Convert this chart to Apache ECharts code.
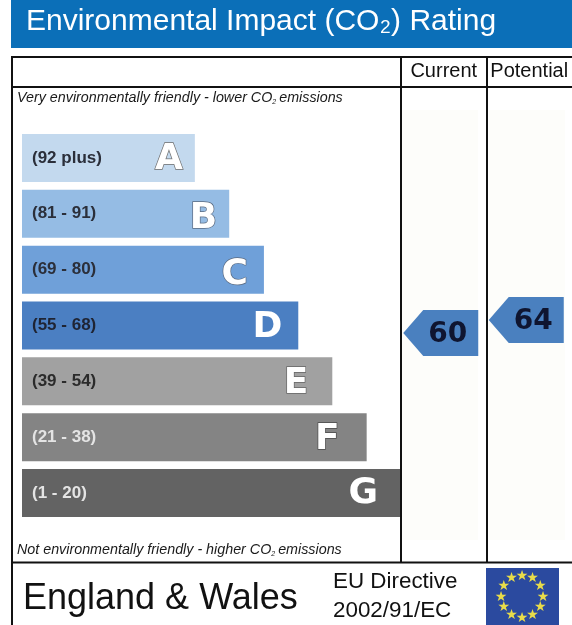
<!DOCTYPE html>
<html><head><meta charset="utf-8">
<style>html,body{margin:0;padding:0;background:#fff}#c{width:572px;height:625px}</style>
<script src="https://cdn.jsdelivr.net/npm/echarts@6/dist/echarts.min.js"></script>
</head><body><div id="c"></div>
<script>
const ranges = ['(92 plus)','(81 - 91)','(69 - 80)','(55 - 68)','(39 - 54)','(21 - 38)','(1 - 20)'];
const letters = ['A','B','C','D','E','F','G'];
const bandLengths = [5.03,6.03,7.04,8.04,9.03,10.03,11];
const bandColors = ['#c3d9ee','#95bce4','#6fa0d9','#4b7fc2','#a1a1a1','#848484','#636363'];
const rangeColors = ['#2b2f3a','#2b2f3a','#2b2f3a','#1f2433','#2b2b2b','#e4e4e4','#e4e4e4'];
const ratingColumns = ['Current','Potential'];
const ratings = [60,64];
const font = 'Liberation Sans, Arial, sans-serif';
const arrow = 'path://M0,23 L20,0 L75,0 L75,46 L20,46 Z';
const letterInsets = [12,12,16,16,24,27,22];
const letterDrops = [2,5,5,2,2,2,1];
const letterEdges = ['#6e6e6e','#5a6a80','#5a6a80','#4b7fc2','#666666','#4a4a4a','#636363'];

function italicText(text, x, y) {
  return {type:'text', x, y, z:5, style:{
    text, font:'italic 14.3px '+font, fill:'#1a1a1a',
    rich:{s:{fontSize:7, fontStyle:'italic', fontFamily:font, fill:'#1a1a1a', padding:[8,3,0,0]}}
  }};
}
function line(x1,y1,x2,y2,w){
  return {type:'line', z:6, shape:{x1,y1,x2,y2}, style:{stroke:'#111', lineWidth:w||2}};
}
const stars = [];
for (let i=0;i<12;i++){
  const a = i*Math.PI/6;
  stars.push({type:'text', z:7, x:522+21*Math.sin(a), y:597-21*Math.cos(a), style:{
    text:'★', font:'14px DejaVu Sans', fill:'#e8dc4a', align:'center', verticalAlign:'middle',
    shadowBlur:3, shadowColor:'#e8dc4a'
  }});
}

const chart = echarts.init(document.getElementById('c'), null, {renderer:'canvas'});
chart.setOption({
  animation:false,
  backgroundColor:'#fff',
  title:{text:'Environmental Impact (CO₂) Rating', left:21, top:2,
    textStyle:{color:'#fff', fontFamily:font, fontWeight:'normal', fontSize:30}},
  grid:[
    {left:22, top:130, width:378, height:391},
    {left:401, top:203, width:171, height:325}
  ],
  xAxis:[
    {gridIndex:0, type:'value', min:0, max:11, show:false},
    {gridIndex:1, type:'category', data:ratingColumns, position:'top', offset:116,
      axisLine:{show:false}, axisTick:{show:false}, splitLine:{show:false},
      axisLabel:{interval:0, hideOverlap:false, margin:6, color:'#111', fontFamily:font, fontSize:20}}
  ],
  yAxis:[
    {gridIndex:0, type:'category', inverse:true, data:ranges,
      axisLine:{show:false}, axisTick:{show:false}, splitLine:{show:false},
      axisLabel:{inside:true, margin:10, align:'left', formatter:(v,i)=>'{r'+i+'|'+v+'}',
        rich:Object.fromEntries(rangeColors.map((c,i)=>['r'+i,{color:c,fontFamily:font,fontWeight:'bold',fontSize:17}]))},
      z:4},
    {gridIndex:1, type:'value', min:0, max:100, show:false}
  ],
  series:[
    {type:'bar', xAxisIndex:0, yAxisIndex:0, barWidth:48, z:2,
      data:bandLengths.map((v,i)=>({value:v, itemStyle:{color:bandColors[i]},
        label:{distance:letterInsets[i], offset:[0,letterDrops[i]], textBorderColor:letterEdges[i]}})),
      label:{show:true, position:'insideRight', color:'#fff', fontFamily:'DejaVu Sans',
        fontWeight:'bold', fontSize:36, textBorderWidth:1.4,
        formatter:p=>letters[p.dataIndex]}},
    {type:'scatter', xAxisIndex:1, yAxisIndex:1, symbol:arrow, symbolSize:[75,46], symbolOffset:[-3,0],
      itemStyle:{color:'#4a80bf', opacity:1}, z:3,
      data:ratings.map((v,i)=>[ratingColumns[i],v]),
      label:{show:true, position:'inside', offset:[7,2], color:'#0f1530', fontFamily:'DejaVu Sans',
        fontWeight:'bold', fontSize:28, formatter:p=>p.value[1]}}
  ],
  graphic:[
    {type:'rect', z:-1, silent:true, shape:{x:11,y:0,width:561,height:48}, style:{fill:'#0b6fb8'}},
    {type:'rect', z:-1, silent:true, shape:{x:402,y:110,width:76,height:430}, style:{fill:'#fdfdfa'}},
    {type:'rect', z:-1, silent:true, shape:{x:489,y:110,width:76,height:430}, style:{fill:'#fdfdfa'}},
    line(11,57,572,57), line(11,87,572,87), line(11,562.5,572,562.5),
    line(12,57,12,625), line(401,57,401,562), line(487,57,487,562),
    italicText('Very environmentally friendly - lower CO{s|2}emissions',17,91),
    italicText('Not environmentally friendly - higher CO{s|2}emissions',17,543),
    {type:'text', z:5, x:23, y:581, style:{text:'England & Wales', font:'36px '+font, fill:'#111'}},
    {type:'text', z:5, x:333, y:571, style:{text:'EU Directive', font:'22.4px '+font, fill:'#111'}},
    {type:'text', z:5, x:333, y:600, style:{text:'2002/91/EC', font:'22.4px '+font, fill:'#111'}},
    {type:'rect', z:6, shape:{x:486,y:568,width:73,height:57}, style:{fill:'#2b4a9f'}},
    ...stars
  ]
});
</script></body></html>
